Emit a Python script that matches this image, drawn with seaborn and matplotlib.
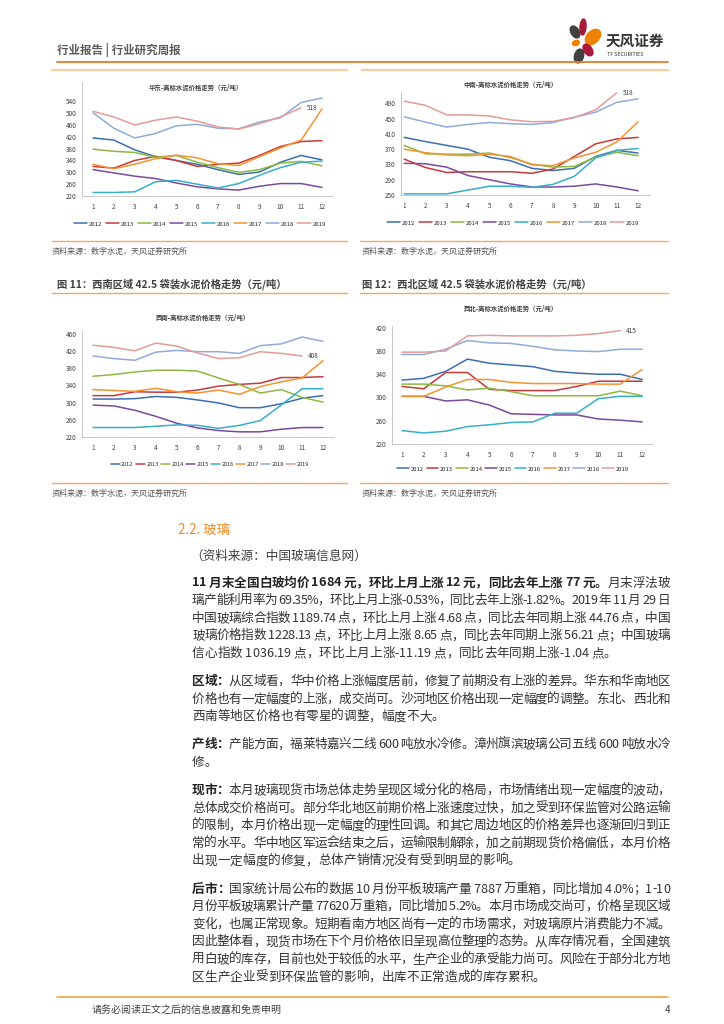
import numpy as np
import pandas as pd
import matplotlib
matplotlib.use('Agg')
import matplotlib.pyplot as plt
import seaborn as sns
from matplotlib.lines import Line2D
from matplotlib.patches import Ellipse
from matplotlib.font_manager import FontProperties

sns.set_style('white')
FONTS = ['Noto Sans CJK SC', 'DejaVu Sans']
plt.rcParams['font.family'] = FONTS
plt.rcParams['axes.unicode_minus'] = False

months = list(range(1, 13))
years = ['2012', '2013', '2014', '2015', '2016', '2017', '2018', '2019']
year_colors = ['#3C6EB4', '#C8393B', '#8DB93E', '#7B4A9E', '#36AFCB', '#F7922F', '#8FAADC', '#E39C98']

# 华东
hd_2012 = [416, 409, 376, 353, 340, 327, 309, 293, 301, 334, 357, 342]
hd_2013 = [320, 314, 340, 354, 340, 320, 327, 331, 357, 387, 404, 407]
hd_2014 = [378, 371, 367, 351, 357, 334, 316, 300, 309, 331, 337, 322]
hd_2015 = [309, 298, 287, 279, 264, 251, 244, 240, 253, 262, 262, 249]
hd_2016 = [232, 232, 234, 268, 273, 260, 247, 262, 290, 316, 334, 338]
hd_2017 = [327, 312, 327, 346, 358, 349, 329, 323, 353, 382, 409, 514]
hd_2018 = [501, 449, 416, 431, 457, 462, 449, 447, 470, 484, 536, 551]
hd_2019 = [506, 487, 460, 476, 487, 473, 453, 446, 464, 487, 518]

# 中南
zn_2012 = [401, 390, 380, 370, 349, 340, 320, 314, 320, 351, 367, 360]
zn_2013 = [344, 322, 309, 311, 311, 311, 307, 318, 351, 384, 397, 401]
zn_2014 = [380, 358, 357, 357, 360, 348, 331, 323, 325, 349, 362, 353]
zn_2015 = [333, 332, 323, 301, 290, 279, 271, 271, 273, 279, 271, 261]
zn_2016 = [253, 253, 253, 263, 273, 273, 270, 278, 299, 347, 367, 372]
zn_2017 = [370, 361, 355, 353, 357, 351, 329, 327, 347, 362, 389, 442]
zn_2018 = [455, 441, 428, 435, 440, 437, 435, 440, 454, 467, 493, 502]
zn_2019 = [496, 485, 460, 460, 457, 447, 442, 443, 453, 473, 518]

# 西南
xn_2012 = [308, 308, 309, 314, 312, 306, 299, 288, 288, 297, 310, 316]
xn_2013 = [316, 316, 325, 324, 324, 329, 338, 342, 345, 358, 358, 360]
xn_2014 = [361, 365, 371, 375, 375, 373, 357, 342, 322, 330, 312, 301]
xn_2015 = [294, 292, 282, 268, 252, 241, 235, 232, 232, 238, 242, 242]
xn_2016 = [242, 242, 242, 245, 248, 247, 240, 247, 258, 294, 332, 332]
xn_2017 = [330, 328, 326, 333, 325, 322, 329, 319, 337, 348, 357, 397]
xn_2018 = [408, 402, 398, 417, 421, 418, 418, 414, 432, 436, 452, 442]
xn_2019 = [433, 428, 420, 438, 431, 415, 402, 404, 418, 414, 408]

# 西北
xb_2012 = [330, 333, 345, 366, 359, 356, 353, 345, 342, 340, 340, 331]
xb_2013 = [319, 315, 343, 343, 314, 312, 312, 312, 319, 328, 328, 328]
xb_2014 = [323, 323, 320, 313, 316, 310, 303, 303, 303, 303, 311, 303]
xb_2015 = [302, 302, 294, 296, 287, 272, 271, 270, 270, 263, 261, 258]
xb_2016 = [243, 239, 242, 250, 253, 257, 258, 273, 273, 298, 302, 302]
xb_2017 = [302, 302, 318, 331, 331, 326, 324, 324, 324, 323, 323, 348]
xb_2018 = [374, 374, 383, 398, 394, 393, 388, 382, 380, 379, 383, 383]
xb_2019 = [378, 378, 380, 406, 407, 406, 406, 406, 407, 410, 415]

hd_yticks = [220, 260, 300, 340, 380, 420, 460, 500, 540]
zn_yticks = [250, 290, 330, 370, 410, 450, 490]
xn_yticks = [220, 260, 300, 340, 380, 420, 460]
xb_yticks = [220, 260, 300, 340, 380, 420]

titles = ['华东-高标水泥价格走势（元/吨）', '中南-高标水泥价格走势（元/吨）',
          '西南-高标水泥价格走势（元/吨）', '西北-高标水泥价格走势（元/吨）']

W, H = 724, 1024
def fx(x):
    return x / W
def fy(y):
    return 1 - y / H

fig = plt.figure(figsize=(7.24, 10.24), dpi=100)
fig.patch.set_facecolor('white')


def hline(y, x0, x1, color, lw):
    fig.add_artist(Line2D([fx(x0), fx(x1)], [fy(y), fy(y)], color=color, lw=lw,
                          transform=fig.transFigure))


def panel(series, yticks, ylim, xlim, rect, title, title_xy, leg_xy, leg_fs, leg_hl, leg_cs):
    left, top, right, bottom = rect
    ax = fig.add_axes([fx(left), fy(bottom), (right - left) / W, (bottom - top) / H])
    rows = []
    for y, vals in zip(years, series):
        for m, v in zip(months, vals):
            rows.append({'month': m, 'price': v, 'year': y})
    df = pd.DataFrame(rows)
    sns.lineplot(data=df, x='month', y='price', hue='year', palette=year_colors,
                 hue_order=years, linewidth=1.1, ax=ax, estimator=None)
    ax.set_xlim(*xlim)
    ax.set_ylim(*ylim)
    ax.set_xticks(months)
    ax.set_xticks([m + 0.5 for m in range(0, 13) if xlim[0] <= m + 0.5 <= xlim[1]], minor=True)
    ax.set_yticks(yticks)
    ax.tick_params(axis='x', which='major', length=0, labelsize=4.6, pad=5, colors='#404040')
    ax.tick_params(axis='x', which='minor', length=2, width=0.5, color='#BFBFBF')
    ax.tick_params(axis='y', length=2, width=0.5, labelsize=4.6, pad=2, colors='#404040')
    ax.tick_params(axis='y', color='#BFBFBF')
    ax.set_xlabel('')
    ax.set_ylabel('')
    for s in ['top', 'right']:
        ax.spines[s].set_visible(False)
    for s in ['left', 'bottom']:
        ax.spines[s].set_color('#BFBFBF')
        ax.spines[s].set_linewidth(0.6)
    last = series[-1]
    ax.annotate(str(last[-1]), (len(last), last[-1]), xytext=(4, 0), textcoords='offset points',
                fontsize=4.6, va='center', ha='left', color='#404040')
    sns.move_legend(ax, 'center', bbox_to_anchor=(fx(leg_xy[0]), fy(leg_xy[1])),
                    bbox_transform=fig.transFigure, ncol=8, frameon=False, title=None,
                    fontsize=leg_fs, handlelength=leg_hl, columnspacing=leg_cs, handletextpad=0.3)
    fig.text(fx(title_xy[0]), fy(title_xy[1]), title, fontsize=4.6, fontweight='bold',
             ha='center', va='center', color='#404040')
    return ax


panel([hd_2012, hd_2013, hd_2014, hd_2015, hd_2016, hd_2017, hd_2018, hd_2019],
      hd_yticks, (220, 605), (0.47, 12.53), (82, 82, 333, 196),
      titles[0], (196, 87), (200, 224), 4.3, 2.2, 0.6)
panel([zn_2012, zn_2013, zn_2014, zn_2015, zn_2016, zn_2017, zn_2018, zn_2019],
      zn_yticks, (250, 520), (0.85, 12.56), (401, 92, 650, 195),
      titles[1], (510, 84), (513, 223), 4.3, 2.2, 0.6)
panel([xn_2012, xn_2013, xn_2014, xn_2015, xn_2016, xn_2017, xn_2018, xn_2019],
      xn_yticks, (220, 466), (0.47, 12.53), (82, 331, 334, 437),
      titles[2], (203, 317), (210, 464), 4.0, 1.6, 0.4)
panel([xb_2012, xb_2013, xb_2014, xb_2015, xb_2016, xb_2017, xb_2018, xb_2019],
      xb_yticks, (220, 423), (0.54, 12.5), (392, 326, 653, 444),
      titles[3], (511, 308), (513, 469), 4.2, 2.0, 0.5)

# ---- page decorations ----
fig.text(fx(57), fy(50), '行业报告 | 行业研究周报', fontsize=8.3, fontweight='bold',
         color='#595959', va='center', ha='left')
hline(62, 57, 668, '#E8782A', 1.3)
hline(70, 52, 347, '#F8CDA6', 1.6)
hline(70, 362, 668, '#F8CDA6', 1.6)

for y in [241, 293, 483]:
    hline(y, 52, 347, '#F5A85A', 1.0)
    hline(y, 360, 668, '#F5A85A', 1.0)

for x, y in [(52, 251), (362, 251), (52, 493), (362, 493)]:
    fig.text(fx(x), fy(y), '资料来源：数字水泥，天风证券研究所', fontsize=5.8, color='#555555',
             va='center', ha='left')

fig.text(fx(57), fy(284), '图 11：西南区域 42.5 袋装水泥价格走势（元/吨）', fontsize=7.4,
         fontweight='bold', color='#404040', va='center', ha='left')
fig.text(fx(362), fy(284), '图 12：西北区域 42.5 袋装水泥价格走势（元/吨）', fontsize=7.4,
         fontweight='bold', color='#404040', va='center', ha='left')

# logo
lax = fig.add_axes([fx(555), fy(66), 50 / W, 48 / H])
lax.set_xlim(0, 50)
lax.set_ylim(0, 48)
lax.axis('off')
petals = [((20, 34), 8, 13, 30, '#404040'), ((28, 39), 6, 16, -5, '#A8193A'),
          ((38, 29), 12, 18, -45, '#EE8200'), ((21, 23), 7, 5, 20, '#EE8200'),
          ((33, 16), 8, 13, 35, '#A8193A'), ((24, 10), 9, 14, -15, '#404040')]
for c, w, h, a, col in petals:
    lax.add_patch(Ellipse(c, w, h, angle=a, color=col))
fig.text(fx(606), fy(41), '天风证券', fontsize=10.5, fontweight='bold', color='#333333',
         va='center', ha='left')
fig.text(fx(607), fy(55), 'TF SECURITIES', fontsize=3.8, color='#333333', va='center', ha='left')

# ---- body text ----
fig.text(fx(178), fy(530), '2.2. 玻璃', fontsize=9.6, color='#F08A24', va='center', ha='left')
fig.text(fx(190), fy(556), '（资料来源：中国玻璃信息网）', fontsize=9.1, color='#404040',
         va='center', ha='left')

fp_reg = FontProperties(family=FONTS, size=9.1)
fp_bold = FontProperties(family=FONTS, size=9.1, weight='bold')
renderer = fig.canvas.get_renderer()
_wcache = {}


def char_w(ch, bold):
    key = (ch, bold)
    if key not in _wcache:
        fp = fp_bold if bold else fp_reg
        w1 = renderer.get_text_width_height_descent('x' + ch + 'x', fp, ismath=False)[0]
        w0 = renderer.get_text_width_height_descent('xx', fp, ismath=False)[0]
        _wcache[key] = w1 - w0
    return _wcache[key]


def text_line(y, segs, justify=True, x0=192, x1=670):
    toks = [(ch, b) for t, b in segs for ch in t]
    ws = [char_w(ch, b) for ch, b in toks]
    extra = 0
    if justify and len(toks) > 1:
        extra = (x1 - x0 - sum(ws)) / (len(toks) - 1)
    x = x0
    for (ch, b), w in zip(toks, ws):
        if ch != ' ':
            fig.text(fx(x), fy(y), ch, fontproperties=fp_bold if b else fp_reg,
                     color='#222222' if b else '#333333', va='center', ha='left')
        x += w + extra


paras = [
    [[('11 月末全国白玻均价 1684 元，环比上月上涨 12 元，同比去年上涨 77 元。', True), ('月末浮法玻', False)],
     [('璃产能利用率为 69.35%，环比上月上涨-0.53%，同比去年上涨-1.82%。2019 年 11 月 29 日', False)],
     [('中国玻璃综合指数 1189.74 点，环比上月上涨 4.68 点，同比去年同期上涨 44.76 点，中国', False)],
     [('玻璃价格指数 1228.13 点，环比上月上涨 8.65 点，同比去年同期上涨 56.21 点；中国玻璃', False)],
     [('信心指数 1036.19 点，环比上月上涨-11.19 点，同比去年同期上涨-1.04 点。', False)]],
    [[('区域：', True), ('从区域看，华中价格上涨幅度居前，修复了前期没有上涨的差异。华东和华南地区', False)],
     [('价格也有一定幅度的上涨，成交尚可。沙河地区价格出现一定幅度的调整。东北、西北和', False)],
     [('西南等地区价格也有零星的调整，幅度不大。', False)]],
    [[('产线：', True), ('产能方面，福莱特嘉兴二线 600 吨放水冷修。漳州旗滨玻璃公司五线 600 吨放水冷', False)],
     [('修。', False)]],
    [[('现市：', True), ('本月玻璃现货市场总体走势呈现区域分化的格局，市场情绪出现一定幅度的波动，', False)],
     [('总体成交价格尚可。部分华北地区前期价格上涨速度过快，加之受到环保监管对公路运输', False)],
     [('的限制，本月价格出现一定幅度的理性回调。和其它周边地区的价格差异也逐渐回归到正', False)],
     [('常的水平。华中地区军运会结束之后，运输限制解除，加之前期现货价格偏低，本月价格', False)],
     [('出现一定幅度的修复，总体产销情况没有受到明显的影响。', False)]],
    [[('后市：', True), ('国家统计局公布的数据 10 月份平板玻璃产量 7887 万重箱，同比增加 4.0%；1-10', False)],
     [('月份平板玻璃累计产量 77620 万重箱，同比增加 5.2%。本月市场成交尚可，价格呈现区域', False)],
     [('变化，也属正常现象。短期看南方地区尚有一定的市场需求，对玻璃原片消费能力不减。', False)],
     [('因此整体看，现货市场在下个月价格依旧呈现高位整理的态势。从库存情况看，全国建筑', False)],
     [('用白玻的库存，目前也处于较低的水平，生产企业的承受能力尚可。风险在于部分北方地', False)],
     [('区生产企业受到环保监管的影响，出库不正常造成的库存累积。', False)]],
]

y = 583
step, gap = 17.6, 10.5
for p in paras:
    for i, segs in enumerate(p):
        text_line(y, segs, justify=(i < len(p) - 1))
        y += step
    y += gap

# footer
hline(997, 57, 668, '#F2A33A', 1.2)
fig.text(fx(92), fy(1010), '请务必阅读正文之后的信息披露和免责申明', fontsize=7.2, color='#404040',
         va='center', ha='left')
fig.text(fx(665), fy(1010), '4', fontsize=7.2, color='#404040', va='center', ha='left')

fig.savefig('out.png', dpi=100, facecolor='white')
